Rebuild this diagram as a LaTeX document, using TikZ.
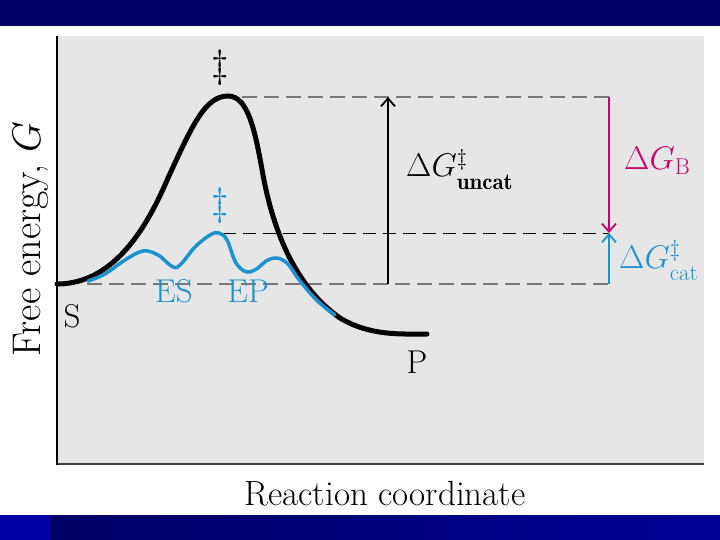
\documentclass[tikz,border=0pt]{standalone}
\usepackage{fix-cm}
\usepackage{graphicx}
\usepackage{fontspec}
\usetikzlibrary{arrows.meta}
\definecolor{navy}{RGB}{0,0,102}
\definecolor{barblue}{RGB}{0,0,165}
\definecolor{bardark}{RGB}{0,0,100}
\definecolor{barright}{RGB}{0,0,150}
\definecolor{panel}{RGB}{230,230,230}
\definecolor{cblue}{RGB}{28,146,208}
\definecolor{cmag}{RGB}{204,0,110}
\definecolor{dgrey}{RGB}{120,120,120}
\newcommand{\lowsub}[1]{\lower 4pt\hbox{$\scriptstyle #1$}}
\tikzset{
  lbl/.style={inner sep=0pt,font=\fontsize{33}{36}\selectfont},
  mlbl/.style={inner sep=0pt,font=\fontsize{29}{32}\selectfont},
  gdash/.style={draw=dgrey,line width=1.6pt,dash pattern=on 15pt off 7pt},
  kdash/.style={draw=black,line width=0.9pt,dash pattern=on 13pt off 7pt},
  arr/.style={line width=1.8pt,-{Straight Barb[length=8pt,width=14pt,line width=1.8pt]}},
}
\begin{document}
\begin{tikzpicture}[x=1pt,y=-1pt]
\useasboundingbox (0,0) rectangle (720,540);
% bars
\fill[navy] (0,0) rectangle (720,26);
\fill[barblue] (0,515) rectangle (50,540);
\shade[left color=bardark,right color=barright] (50,515) rectangle (720,540);
% panel
\fill[panel] (57,36) rectangle (704,464);
\draw[line width=2pt,black!75] (57,464) -- (704,464);
\draw[line width=2pt,black] (57,36) -- (57,465);
% coordinates
\coordinate (peakU) at (242,97);
\coordinate (peakC) at (223,233);
\coordinate (base) at (87,284);
\coordinate (rTop) at (609,97);
\coordinate (rMid) at (609,233);
\coordinate (rBot) at (609,284);
\coordinate (aBot) at (388,284);
\coordinate (aTop) at (388,97);
% dashed guides
\draw[gdash] (peakU) -- (rTop);
\draw[kdash] (peakC) -- (rMid);
\draw[gdash] (base) -- (rBot);
% curves
\draw[line width=5pt,black,line cap=round]
 (57,284) .. controls (115,284) and (148,225) .. (168,178)
 .. controls (192,126) and (205,96) .. (228,96)
 .. controls (248,96) and (255,130) .. (263,175)
 .. controls (275,240) and (300,290) .. (340,318)
 .. controls (370,336) and (400,334) .. (427,334);
\draw[line width=3.5pt,cblue,line cap=round] plot[smooth,tension=0.6] coordinates {
 (88,281) (105,274) (125,260) (143,251) (158,255) (173,267) (181,264) (195,247)
 (210,235) (219,233) (227,240) (236,263) (247,272) (258,268) (266,261) (277,258)
 (288,264) (297,277) (310,293) (322,305) (335,315)};
% arrows
\draw[arr,black] (aBot) -- (aTop);
\draw[arr,cmag] (rTop) -- (rMid);
\draw[arr,cblue] (rBot) -- (rMid);
% labels
\node[mlbl,anchor=center] (dagU) at (220,68) {\scalebox{1.35}{$\ddagger$}};
\node[mlbl,anchor=center,text=cblue] (dagC) at (220,206) {\scalebox{1.35}{$\ddagger$}};
\node[mlbl,anchor=base west] (gU) at (406,177) {\scalebox{1.13}{$\Delta G^{\ddagger}_{\lowsub{\mathbf{uncat}}}$}};
\node[mlbl,anchor=base west,text=cmag] (gB) at (624,170) {\scalebox{1.13}{$\Delta G_{\mathrm{B}}$}};
\node[mlbl,anchor=base west,text=cblue] (gC) at (619,268) {\scalebox{1.13}{$\Delta G^{\ddagger}_{\lowsub{\mathrm{cat}}}$}};
\node[lbl,anchor=base,text=cblue] (es) at (174,302) {ES};
\node[lbl,anchor=base,text=cblue] (ep) at (248,302) {EP};
\node[lbl,anchor=base] (s) at (72,327) {S};
\node[lbl,anchor=base] (p) at (417,373) {P};
\node[lbl,anchor=base,font=\fontsize{35}{38}\selectfont] (xl) at (385,505) {Reaction coordinate};
\node[lbl,anchor=base,rotate=90,font=\fontsize{40}{44}\selectfont] (yl) at (40,239) {Free energy, $G$};
\end{tikzpicture}
\end{document}
